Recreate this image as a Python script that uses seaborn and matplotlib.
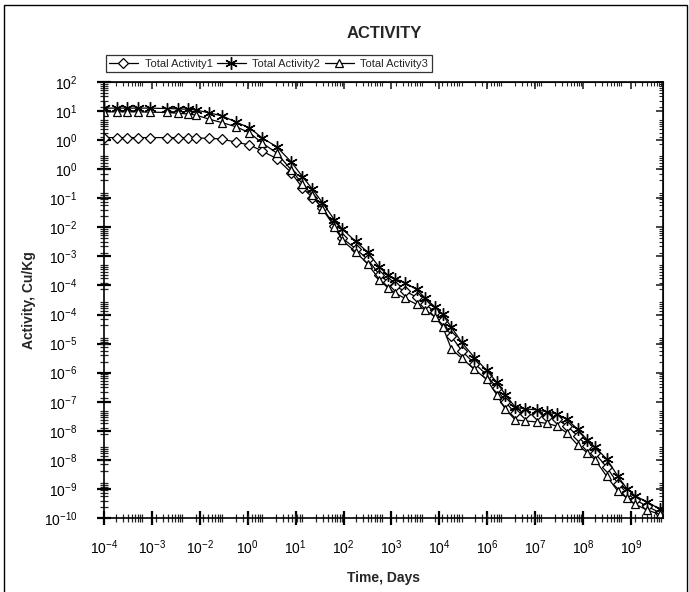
import numpy as np
import pandas as pd
import seaborn as sns
import matplotlib.pyplot as plt
from matplotlib.ticker import FixedLocator, FixedFormatter, LogLocator, NullFormatter
from matplotlib.patches import Rectangle

# time grid shared by the three series (days)
time_days = [1.0e-4, 2.1e-4, 3.8e-4, 7.1e-4, 1.4e-3, 3.8e-3, 7.2e-3, 1.3e-2, 2.0e-2, 4.3e-2,
             9.1e-2, 0.20, 0.44, 0.91, 2.1, 4.9, 9.3, 16.6, 29.5, 58.9,
             93.3, 200, 398, 794, 1260, 1905, 3390, 6760, 11200, 19000,
             30200, 50100, 91200, 1.9e5, 3.8e5, 6.8e5, 1.12e6, 2.0e6, 3.55e6, 6.9e6,
             1.26e7, 2.19e7, 3.89e7, 7.41e7, 1.26e8, 2.0e8, 3.89e8, 7.41e8, 1.26e9, 2.0e9,
             3.98e9, 8.3e9]

total_activity1 = [2.95, 2.95, 2.95, 2.95, 2.95, 2.95, 2.95, 2.95, 2.9, 2.8,
                   2.7, 2.2, 1.86, 1.26, 0.78, 0.32, 0.123, 0.066, 0.035, 0.0112,
                   5.0e-3, 2.6e-3, 1.32e-3, 5.0e-4, 3.2e-4, 2.4e-4, 1.78e-4, 1.2e-4, 7.6e-5, 4.8e-5,
                   2.8e-5, 1.0e-5, 4.0e-6, 1.78e-6, 8.9e-7, 3.8e-7, 1.58e-7, 7.6e-8, 7.1e-8, 6.8e-8,
                   6.0e-8, 5.2e-8, 3.5e-8, 1.78e-8, 9.5e-9, 6.0e-9, 2.5e-9, 8.9e-10, 4.8e-10, 3.2e-10,
                   2.1e-10, 1.41e-10]

total_activity2 = [19.1, 19.1, 19.1, 19.1, 19.1, 18.6, 18.2, 17.8, 17.0, 14.1,
                   11.7, 7.9, 5.5, 2.9, 1.66, 0.63, 0.25, 0.112, 0.048, 0.0162,
                   8.9e-3, 4.1e-3, 2.1e-3, 7.9e-4, 5.0e-4, 3.9e-4, 3.0e-4, 1.95e-4, 1.12e-4, 6.6e-5,
                   4.0e-5, 1.78e-5, 6.8e-6, 2.6e-6, 1.17e-6, 5.5e-7, 2.5e-7, 1.12e-7, 1.0e-7, 9.5e-8,
                   8.3e-8, 7.2e-8, 5.2e-8, 2.75e-8, 1.41e-8, 8.9e-9, 4.2e-9, 1.41e-9, 6.3e-10, 4.1e-10,
                   2.75e-10, 1.78e-10]

total_activity3 = [15.1, 15.1, 15.1, 15.1, 14.8, 14.5, 13.8, 13.2, 12.3, 9.5,
                   7.6, 5.9, 4.0, 2.1, 1.12, 0.38, 0.158, 0.076, 0.032, 0.0105,
                   4.4e-3, 2.1e-3, 1.0e-3, 3.6e-4, 2.2e-4, 1.58e-4, 1.12e-4, 7.6e-5, 5.2e-5, 3.5e-5,
                   1.86e-5, 4.5e-6, 2.5e-6, 1.23e-6, 6.6e-7, 2.5e-7, 1.0e-7, 5.0e-8, 4.7e-8, 4.4e-8,
                   4.0e-8, 3.4e-8, 2.2e-8, 1.0e-8, 6.3e-9, 4.0e-9, 1.41e-9, 5.5e-10, 3.5e-10, 2.4e-10,
                   1.66e-10, 1.26e-10]

# tick labels as printed by the original program (rounded exponents)
x_label_exp = [-4, -3, -2, 0, 1, 2, 3, 4, 6, 7, 8, 9]
y_label_exp = [2, 1, 0, 0, -1, -2, -3, -4, -4, -5, -6, -7, -8, -8, -9, -10]

sns.set_style("ticks")
plt.rcParams['font.family'] = ['Liberation Sans', 'DejaVu Sans']
plt.rcParams['mathtext.fontset'] = 'custom'
plt.rcParams['mathtext.rm'] = 'Liberation Sans'
plt.rcParams['mathtext.it'] = 'Liberation Sans:italic'
plt.rcParams['mathtext.bf'] = 'Liberation Sans:bold'

df = pd.DataFrame({'time': time_days, 'a1': total_activity1,
                   'a2': total_activity2, 'a3': total_activity3})

fig = plt.figure(figsize=(6.89, 5.92), dpi=100)
ax = fig.add_axes([104 / 689, 1 - 518 / 592, 559 / 689, 436 / 592])

sns.lineplot(data=df, x='time', y='a1', ax=ax, color='black', lw=0.9,
             marker='D', ms=5.5, mfc='white', mec='black', mew=0.9, label='Total Activity1')
sns.lineplot(data=df, x='time', y='a2', ax=ax, color='black', lw=0.9,
             marker=(6, 2, 0), ms=9, mec='black', mew=1.0, label='Total Activity2')
sns.lineplot(data=df, x='time', y='a3', ax=ax, color='black', lw=0.9,
             marker='^', ms=6, mfc='white', mec='black', mew=0.9, label='Total Activity3')

ax.set_xscale('log')
ax.set_yscale('log')
ax.set_xlim(1e-4, 1e10)
ax.set_ylim(1e-10, 1e2)

# evenly spaced major ticks (1.2 decades on x, 0.8 decades on y)
x_major = [10 ** (-4 + 1.2 * k) for k in range(len(x_label_exp))]
y_major = [10 ** (2 - 0.8 * k) for k in range(len(y_label_exp))]
ax.xaxis.set_major_locator(FixedLocator(x_major))
ax.xaxis.set_major_formatter(FixedFormatter([f'$10^{{{e}}}$' for e in x_label_exp]))
ax.yaxis.set_major_locator(FixedLocator(y_major))
ax.yaxis.set_major_formatter(FixedFormatter([f'$10^{{{e}}}$' for e in y_label_exp]))
for a in (ax.xaxis, ax.yaxis):
    a.set_minor_locator(LogLocator(base=10, subs=np.arange(2, 10), numticks=100))
    a.set_minor_formatter(NullFormatter())

ax.tick_params(which='major', direction='inout', length=10, width=1.6, labelsize=10, colors='black')
ax.tick_params(which='minor', direction='inout', length=6, width=0.9)
ax.tick_params(axis='y', which='major', pad=14)
ax.tick_params(axis='x', which='major', pad=10)

for side in ['top', 'right']:
    if side == 'top':
        sec = ax.secondary_xaxis('top')
        sec.xaxis.set_major_locator(FixedLocator(x_major))
        sec.xaxis.set_minor_locator(LogLocator(base=10, subs=np.arange(2, 10), numticks=100))
    else:
        sec = ax.secondary_yaxis('right')
        sec.yaxis.set_major_locator(FixedLocator(y_major))
        sec.yaxis.set_minor_locator(LogLocator(base=10, subs=np.arange(2, 10), numticks=100))
    sec.tick_params(which='major', direction='in', length=5, width=1.2, labelleft=False,
                    labelright=False, labeltop=False, labelbottom=False)
    sec.tick_params(which='minor', direction='in', length=3, width=0.8)

for s in ax.spines.values():
    s.set_linewidth(1.2)
    s.set_color('black')

ax.set_xlabel('Time, Days', fontsize=10, fontweight='bold', labelpad=10)
ax.set_ylabel('Activity, Cu/Kg', fontsize=10, fontweight='bold', labelpad=6)
fig.text(384 / 689, 1 - 33 / 592, 'ACTIVITY', ha='center', va='center',
         fontsize=12, fontweight='bold')

leg = ax.legend(loc='lower left', bbox_to_anchor=(0.003, 1.023), ncol=3, frameon=True,
                fancybox=False, edgecolor='black', fontsize=8, borderpad=0.3,
                handlelength=2.6, handletextpad=0.6, columnspacing=0.4, borderaxespad=0)
leg.get_frame().set_linewidth(0.9)

# outer frame of the screenshot, bottom edge cut off
fig.patches.append(Rectangle((4 / 689, -4 / 592), 683 / 689, 591 / 592, transform=fig.transFigure,
                             fill=False, edgecolor='black', lw=1.0))

fig.savefig('out.png', dpi=100, facecolor='white')
